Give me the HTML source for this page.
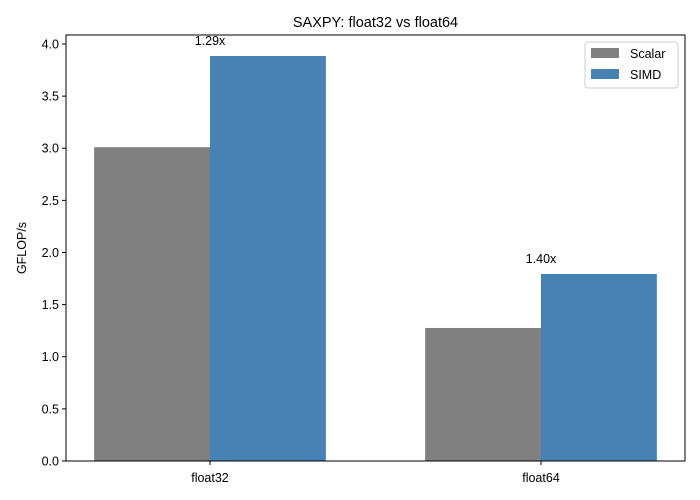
<!DOCTYPE html>
<html><head><meta charset="utf-8"><style>
body{margin:0;background:#fff;}
svg{display:block;font-family:"Liberation Sans","DejaVu Sans",sans-serif;}
</style></head><body>
<svg id="chart" width="700" height="500">
<text x="375.5" y="27" font-size="14.5" text-anchor="middle">SAXPY: float32 vs float64</text>
<text transform="translate(26,248) rotate(-90)" font-size="12.5" text-anchor="middle">GFLOP/s</text>
<g id="bars"></g><g id="yticks"></g><g id="xticks"></g><g id="labels"></g>
<rect x="66" y="35" width="619" height="426" fill="none" stroke="#000" stroke-width="1"/>
<g>
<rect x="585" y="42" width="93" height="46" fill="#fff" stroke="#ccc" rx="3"/>
<rect x="591" y="48" width="28" height="10" fill="#808080"/>
<text x="630" y="58" font-size="12.5">Scalar</text>
<rect x="591" y="69" width="28" height="10" fill="#4682b4"/>
<text x="630" y="79" font-size="12.5">SIMD</text>
</g>
</svg>
<script>
const categories=["float32","float64"];
const scalarValues=[3.01,1.276];
const simdValues=[3.885,1.794];
const speedupLabels=["1.29x","1.40x"];
const yTicks=[0,0.5,1.0,1.5,2.0,2.5,3.0,3.5,4.0];
const NS="http://www.w3.org/2000/svg";
const X0=66,X1=685,Y0=461,Y1=35,xmin=-0.435,xmax=1.435,ymin=0,ymax=4.0863;
const xs=v=>X0+(v-xmin)/(xmax-xmin)*(X1-X0);
const ys=v=>Y0-(v-ymin)/(ymax-ymin)*(Y0-Y1);
function mk(tag,attrs,parent){const e=document.createElementNS(NS,tag);for(const k in attrs)e.setAttribute(k,attrs[k]);document.getElementById(parent).appendChild(e);return e;}
const w=0.35;
categories.forEach((c,i)=>{
  let r=mk("rect",{x:xs(i-w),y:ys(scalarValues[i]),width:xs(i)-xs(i-w),height:ys(0)-ys(scalarValues[i]),fill:"#808080"},"bars");
  
  
  r=mk("rect",{x:xs(i),y:ys(simdValues[i]),width:xs(i+w)-xs(i),height:ys(0)-ys(simdValues[i]),fill:"#4682b4"},"bars");
  
  
  let t=mk("text",{x:xs(i),y:ys(simdValues[i])-11,"font-size":"12.5","text-anchor":"middle"},"labels");
  t.textContent=speedupLabels[i];
  
  
  mk("line",{x1:xs(i),x2:xs(i),y1:Y0,y2:Y0+4,stroke:"#000"},"xticks");
  t=mk("text",{x:xs(i),y:Y0+21,"font-size":"12.5","text-anchor":"middle"},"xticks");
  t.textContent=c;
  
  
});
yTicks.forEach(v=>{
  mk("line",{x1:X0-4,x2:X0,y1:ys(v),y2:ys(v),stroke:"#000"},"yticks");
  const t=mk("text",{x:X0-7,y:ys(v)+4.5,"font-size":"12.5","text-anchor":"end"},"yticks");
  t.textContent=v.toFixed(1);
  
  
});
</script>
</body></html>
